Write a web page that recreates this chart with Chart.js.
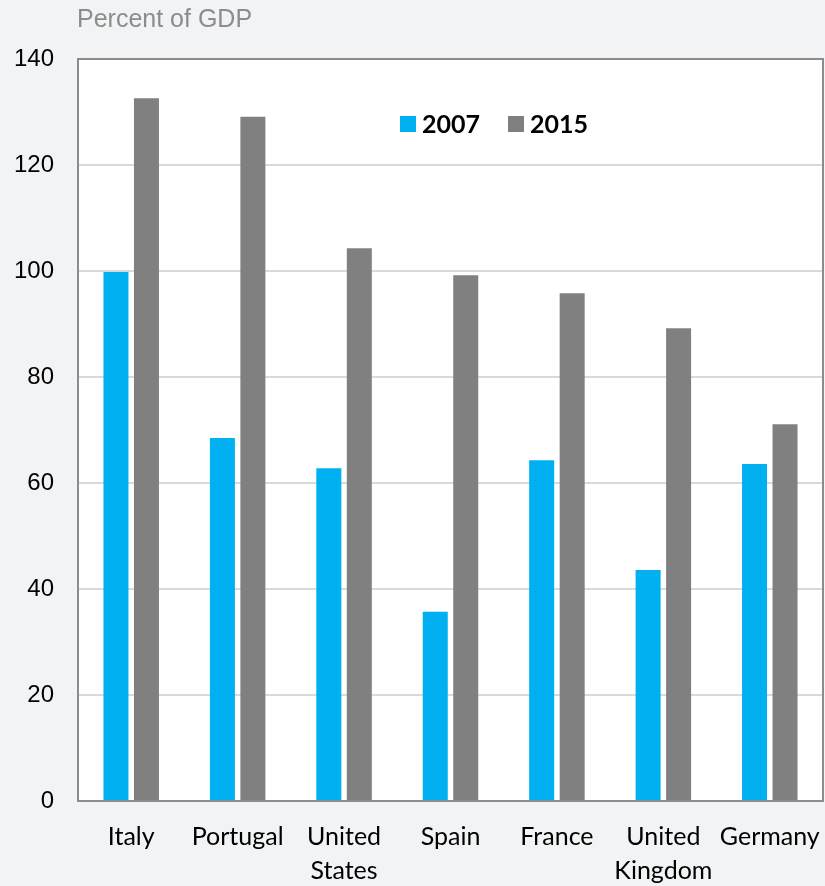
<!DOCTYPE html>
<html>
<head>
<meta charset="utf-8">
<script src="https://cdn.jsdelivr.net/npm/chart.js@4"></script>
<style>
  html, body { margin: 0; padding: 0; background: #f2f3f5; }
  #wrap { width: 825px; height: 886px; }
</style>
</head>
<body>
<div id="wrap"><canvas id="debtChart" width="825" height="886"></canvas></div>
<script>
// data
var countries = [['Italy'], ['Portugal'], ['United', 'States'], ['Spain'], ['France'], ['United', 'Kingdom'], ['Germany']];
var debt2007 = [99.8, 68.5, 62.8, 35.7, 64.3, 43.6, 63.6];
var debt2015 = [132.6, 129.1, 104.3, 99.2, 95.8, 89.2, 71.1];
var yTicks = [0, 20, 40, 60, 80, 100, 120, 140];

// white plot area + gray frame, unit label, legend inside plot
var framePlugin = {
  id: 'frame',
  beforeDraw: function(chart) {
    var a = chart.chartArea, ctx = chart.ctx;
    ctx.save();
    ctx.fillStyle = '#ffffff';
    ctx.fillRect(a.left, a.top, a.right - a.left, a.bottom - a.top);
    ctx.restore();
  },
  afterDraw: function(chart) {
    var a = chart.chartArea, ctx = chart.ctx;
    ctx.save();
    ctx.strokeStyle = '#8c8c8c';
    ctx.lineWidth = 2;
    ctx.strokeRect(a.left, a.top, a.right - a.left, a.bottom - a.top);

    ctx.fillStyle = '#8c8c8c';
    ctx.font = '25px "Liberation Sans", Arial, sans-serif';
    ctx.textBaseline = 'middle';
    ctx.textAlign = 'left';
    ctx.fillText('Percent of GDP', 77, 20);

    // legend
    var x = 400, y = 124;
    ctx.font = 'bold 25px Lato, "Open Sans", sans-serif';
    chart.data.datasets.forEach(function(ds) {
      ctx.fillStyle = ds.backgroundColor;
      ctx.fillRect(x, y - 8, 16, 16);
      ctx.fillStyle = '#000000';
      ctx.fillText(ds.label, x + 22, y + 1);
      x += 22 + ctx.measureText(ds.label).width + 28;
    });
    ctx.restore();
  }
};

var ctx = document.getElementById('debtChart').getContext('2d');
window.debtChart = new Chart(ctx, {
  type: 'bar',
  data: {
    labels: countries,
    datasets: [
      { label: '2007', data: debt2007, backgroundColor: '#00b0f0' },
      { label: '2015', data: debt2015, backgroundColor: '#808080' }
    ]
  },
  options: {
    responsive: false,
    animation: false,
    layout: { padding: { top: 59, right: 2, left: 0, bottom: 0 } },
    categoryPercentage: 0.573,
    barPercentage: 0.82,
    plugins: {
      legend: { display: false },
      tooltip: { enabled: false }
    },
    scales: {
      x: {
        grid: { display: false, drawTicks: false },
        border: { display: false },
        ticks: {
          color: '#000000',
          padding: 19,
          maxRotation: 0,
          autoSkip: false,
          font: { family: 'Lato, "Open Sans", sans-serif', size: 25, lineHeight: 1.36 }
        },
        afterFit: function(scale) {
          scale.height = 85;
          scale.paddingLeft = 0;
          scale.paddingRight = 0;
        }
      },
      y: {
        min: 0,
        max: 140,
        afterBuildTicks: function(scale) {
          scale.ticks = yTicks.map(function(v) { return { value: v }; });
        },
        grid: { color: '#d9d9d9', lineWidth: 2, drawTicks: false },
        border: { display: false },
        ticks: {
          color: '#000000',
          padding: 24,
          font: { family: '"Liberation Sans", Arial, sans-serif', size: 24 }
        },
        afterFit: function(scale) {
          scale.width = 78;
          scale.paddingTop = 0;
          scale.paddingBottom = 0;
        }
      }
    }
  },
  plugins: [framePlugin]
});
</script>
</body>
</html>
